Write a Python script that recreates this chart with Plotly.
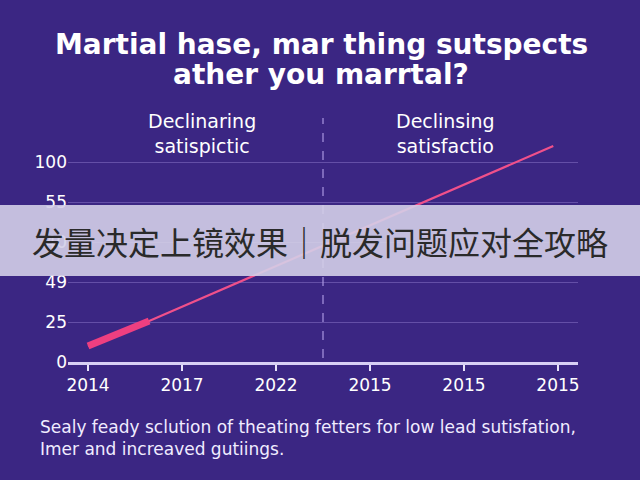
import plotly.graph_objects as go

# ---- data ----
x_tick_labels = ["2014", "2017", "2022", "2015", "2015", "2015"]
x_tick_pos = [0, 1, 2, 3, 4, 5]
y_tick_labels = ["0", "25", "49", "40", "55", "100"]
y_tick_pos = [0, 20, 40, 60, 80, 100]

line_x = [0, 0.65, 4.95]
line_y = [8, 20.5, 108]
thick_x = [0, 0.65]
thick_y = [8, 20.5]

divider_x = 2.5
section_labels = ["Declinaring<br>satispictic", "Declinsing<br>satisfactio"]
section_x = [1.21, 3.8]

title_lines = ["Martial hase, mar thing sutspects", "ather you marrtal?"]
footer_text = ("Sealy feady sclution of theating fetters for low lead sutisfation,<br>"
               "Imer and increaved gutiings.")
banner_text = "发量决定上镜效果｜脱发问题应对全攻略"

BG = "#3b2683"
PINK = "#ee3f80"
GRID = "rgba(150,130,210,0.45)"
FONT = "DejaVu Sans, sans-serif"

W, H = 640, 480
ML, MR, MT, MB = 68, 62, 130, 118
PW, PH = W - ML - MR, H - MT - MB


def px(xp):
    return (xp - ML) / PW


def py(yp):
    return (H - MB - yp) / PH


fig = go.Figure()
fig.add_trace(go.Scatter(x=line_x, y=line_y, mode="lines",
                         line=dict(color="#f0508a", width=2.2), hoverinfo="skip"))
fig.add_trace(go.Scatter(x=thick_x, y=thick_y, mode="lines",
                         line=dict(color=PINK, width=7), hoverinfo="skip"))

fig.update_layout(
    width=W, height=H,
    paper_bgcolor=BG, plot_bgcolor=BG,
    showlegend=False,
    margin=dict(l=ML, r=MR, t=MT, b=MB),
    font=dict(family=FONT, color="white"),
)
fig.update_xaxes(range=[-0.213, 5.213], tickvals=x_tick_pos, ticktext=x_tick_labels,
                 showgrid=False, zeroline=False, showline=True,
                 linecolor="#d8cff5", linewidth=2.5,
                 ticks="outside", ticklen=6, tickwidth=2, tickcolor="#e8e2fa",
                 tickfont=dict(size=17, color="white"))
fig.update_yaxes(range=[0, 116], tickvals=y_tick_pos, ticktext=y_tick_labels,
                 showgrid=True, gridcolor=GRID, gridwidth=1, zeroline=False,
                 showline=False, ticks="", tickfont=dict(size=17, color="white"))

# dashed divider
fig.add_shape(type="line", xref="x", yref="paper", x0=divider_x, x1=divider_x,
              y0=py(358), y1=py(118), line=dict(color="rgba(170,150,225,0.8)", width=1.5, dash="dash"))

# title (two lines)
for line, yp in zip(title_lines, [45, 74]):
    fig.add_annotation(text="<b>" + line + "</b>", xref="paper", yref="paper",
                       x=px(321), y=py(yp), xanchor="center", yanchor="middle",
                       showarrow=False, font=dict(size=28, color="white", family=FONT))

# section labels
for lbl, sx in zip(section_labels, section_x):
    fig.add_annotation(text=lbl, xref="x", yref="paper", x=sx, y=py(133),
                       xanchor="center", yanchor="middle", showarrow=False,
                       font=dict(size=19, color="white"))

# footer
fig.add_annotation(text=footer_text, xref="paper", yref="paper",
                   x=px(38), y=py(438), xanchor="left", yanchor="middle",
                   align="left", showarrow=False, font=dict(size=17, color="#f0ecff"))

# banner overlay
fig.add_shape(type="rect", xref="paper", yref="paper",
              x0=px(0), x1=px(W), y0=py(276), y1=py(205),
              fillcolor="rgba(212,207,232,0.9)", line=dict(width=0), layer="above")
fig.add_annotation(text=banner_text, xref="paper", yref="paper",
                   x=px(320), y=py(241), xanchor="center", yanchor="middle",
                   showarrow=False, font=dict(size=32, color="#2a2a2a", family="Noto Sans CJK SC"))

fig.write_html("out.html", config={"displayModeBar": False},
               post_script="document.body.style.margin='0';document.body.style.overflow='hidden';")
